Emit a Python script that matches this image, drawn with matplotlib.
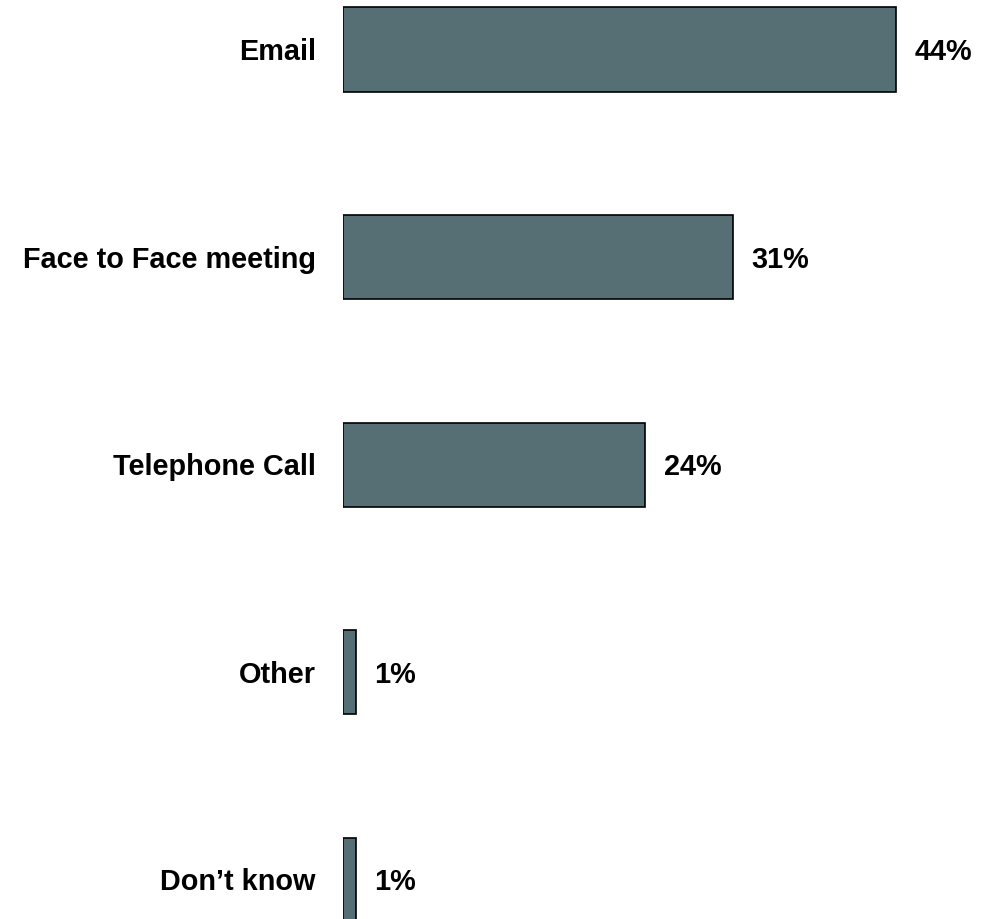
import matplotlib.pyplot as plt
from matplotlib.transforms import offset_copy

categories = ['Email', 'Face to Face meeting', 'Telephone Call', 'Other', 'Don\u2019t know']
values = [44, 31, 24, 1, 1]
value_labels = ['44%', '31%', '24%', '1%', '1%']

plt.rcParams['font.family'] = ['Liberation Sans', 'DejaVu Sans']

fig = plt.figure(figsize=(9.9, 9.19), dpi=100)
# axes from the bars' left edge to the right side of the figure
ax = fig.add_axes([343 / 990, 0, (12.57 * 50) / 990, 1])

ypos = list(range(len(categories)))
ax.barh(ypos, values, height=0.405, left=0, color='#566F74',
        edgecolor='black', linewidth=1.2)

ax.set_xlim(0, 50)
ax.set_ylim(4.19, -0.2386)
ax.axis('off')

lbl_tr = offset_copy(ax.transData, fig=fig, x=-27, y=-2.5, units='dots')
for y, name in zip(ypos, categories):
    ax.text(0, y, name, transform=lbl_tr, ha='right', va='center',
            fontsize=20.8, fontweight='bold', clip_on=False)

val_tr = offset_copy(ax.transData, fig=fig, x=19, y=-2.5, units='dots')
for y, v, t in zip(ypos, values, value_labels):
    ax.text(v, y, t, transform=val_tr, ha='left', va='center',
            fontsize=20.8, fontweight='bold', clip_on=False)

fig.savefig('out.png', dpi=100)
